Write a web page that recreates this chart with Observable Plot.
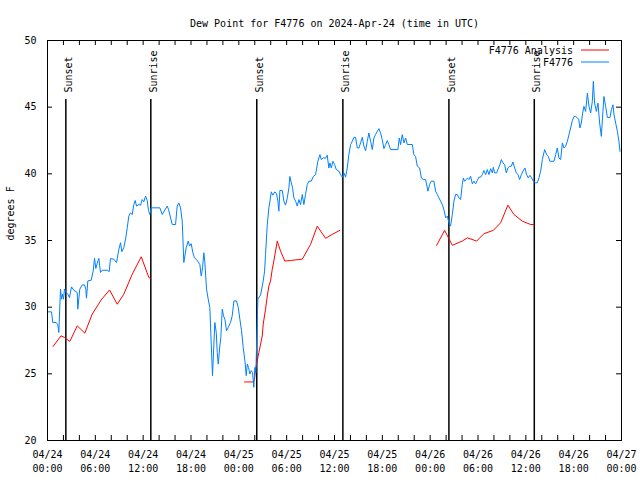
<!DOCTYPE html>
<html><head><meta charset="utf-8">
<script src="https://cdn.jsdelivr.net/npm/d3@7"></script>
<script src="https://cdn.jsdelivr.net/npm/@observablehq/plot@0.6"></script>
<style>body{margin:0;background:#fff}#chart{width:640px;height:480px}</style>
</head><body><div id="chart"></div>
<script>
const title = "Dew Point for F4776 on 2024-Apr-24 (time in UTC)";
const yLabel = "degrees F";
const seriesNames = ["F4776 Analysis", "F4776"];
const seriesColors = ["#ff0000", "#0080ff"];
const startTime = "2024-04-24T00:00:00Z";
const spanHours = 72;
const yTicks = [20, 25, 30, 35, 40, 45, 50];
const sunEvents = ["Sunset", "Sunrise", "Sunset", "Sunrise", "Sunset", "Sunrise"];
const sunHours = [2.3, 12.96, 26.25, 37.05, 50.35, 61.06];

// F4776 observations: hours since 04/24 00:00 UTC, dew point (F)
const obsHours = [
0,0.5,0.66,1.09,1.29,1.42,1.63,1.76,1.88,2.01,
2.13,2.35,2.55,2.76,3.01,3.3,3.73,3.8,4.05,4.35,
4.64,4.81,4.89,5.06,5.48,5.73,5.9,6.06,6.24,6.44,
6.65,6.86,7.49,7.74,7.9,8.32,8.66,8.95,9.16,9.32,
9.57,9.82,10.0,10.2,10.41,10.63,10.83,11.0,11.17,11.46,
11.67,11.88,12.08,12.3,12.51,12.67,12.84,13.01,14.09,14.39,
15.02,15.18,15.65,16.06,16.27,16.47,16.69,16.9,17.1,17.23,
17.4,17.65,17.82,18.03,18.23,18.44,18.78,19.11,19.28,19.45,
19.61,19.74,19.95,20.16,20.36,20.54,20.7,20.87,20.99,21.17,
21.29,21.42,21.58,21.74,21.92,22.08,22.25,22.46,22.67,22.96,
23.17,23.38,23.71,23.93,24.13,24.34,24.55,24.76,24.93,25.06,
25.22,25.38,25.56,25.72,25.88,26.01,26.14,26.26,26.39,26.73,
27.06,27.23,27.35,27.57,27.77,27.9,28.07,28.27,28.52,28.73,
28.9,29.02,29.15,29.45,29.65,29.86,30.08,30.28,30.4,30.58,
30.74,30.9,31.12,31.33,31.53,31.74,31.96,32.16,32.37,32.58,
32.79,33.09,33.34,33.63,33.91,34.17,34.34,34.59,34.88,35.09,
35.29,35.42,35.6,35.8,36.01,36.22,36.55,36.76,36.98,37.18,
37.39,37.6,37.8,38.02,38.23,38.43,38.64,38.86,39.06,39.27,
39.49,39.69,39.9,40.11,40.31,40.53,40.74,40.94,41.15,41.37,
41.57,41.78,41.99,42.2,42.41,42.62,42.82,43.04,43.95,44.13,
44.29,44.5,44.71,44.92,45.13,45.76,45.96,46.17,46.39,46.68,
46.89,47.14,47.43,47.72,47.93,48.14,48.47,48.68,48.9,49.1,
49.31,49.52,49.72,49.94,50.15,50.35,50.56,50.78,50.98,51.19,
51.4,51.61,51.82,52.03,52.16,52.32,52.53,52.66,52.86,53.07,
53.29,53.49,53.7,53.91,54.12,54.33,54.54,54.74,54.96,55.17,
55.37,55.58,55.8,55.92,56.09,56.34,56.5,56.75,56.93,57.13,
57.34,57.55,57.75,57.97,58.18,58.38,58.6,58.81,59.01,59.22,
59.44,59.64,59.89,60.1,60.31,60.51,60.73,60.94,61.23,61.44,
61.64,61.86,62.07,62.36,62.61,62.82,63.02,63.53,63.74,63.95,
64.15,64.37,64.58,64.78,64.99,65.21,65.41,65.62,65.83,66.04,
66.25,66.46,66.63,66.79,66.96,67.13,67.29,67.5,67.72,67.92,
68.13,68.34,68.47,68.63,68.85,69.05,69.26,69.47,69.67,69.8,
70.01,70.23,70.56,70.73,70.93,71.06,71.27,71.48,71.68,71.81
];
const obsDew = [
29.65,29.65,28.85,28.85,28.68,28.1,31.35,30.6,30.97,30.6,
31.35,31.1,30.97,30.72,31.52,31.27,31.1,29.85,31.35,31.67,
31.67,31.35,30.67,31.97,32.02,32.7,33.66,32.9,33.3,33.66,
32.6,32.77,32.77,32.67,33.64,33.6,33.35,34.34,34.83,34.16,
34.46,35.2,35.95,36.83,37.07,36.95,37.7,38.0,37.58,37.7,
37.65,38.07,37.9,38.33,38.0,37.25,36.95,37.45,37.45,36.95,
37.58,37.33,36.2,36.2,37.58,37.82,37.45,36.45,33.35,33.84,
34.46,34.96,34.58,34.76,34.08,33.71,33.5,33.2,32.34,32.96,
34.08,33.35,31.35,30.6,29.97,27.23,24.86,27.23,28.85,28.1,
26.6,25.73,26.86,27.73,29.85,29.35,29.1,28.23,28.47,28.85,
29.35,30.47,30.47,29.97,29.1,28.23,26.98,25.98,24.86,25.73,
25.48,24.99,25.24,25.1,23.99,25.48,25.1,27.98,30.6,30.92,
31.97,32.7,33.96,36.2,37.45,37.95,38.65,38.4,38.65,38.5,
37.95,37.2,38.75,38.75,37.95,37.65,38.2,38.95,39.8,39.33,
38.95,38.2,37.95,37.58,38.07,37.7,38.45,37.7,38.45,39.2,
39.45,39.45,39.8,39.94,40.94,41.44,41.07,41.2,41.17,41.39,
40.44,40.82,40.44,40.94,40.7,40.32,40.2,39.94,39.75,40.07,
39.75,40.44,41.44,42.19,42.44,42.74,42.74,41.94,41.94,42.32,
42.74,42.07,41.74,42.44,43.06,42.44,41.82,42.69,42.94,43.19,
43.39,43.06,42.56,41.89,42.19,42.49,42.19,41.82,41.82,42.69,
42.19,42.94,42.32,42.69,42.2,42.2,41.44,41.3,40.57,40.44,
39.69,39.57,39.57,38.7,39.2,39.45,39.45,38.7,38.45,38.2,
37.95,37.7,37.33,36.7,36.83,36.33,36.08,36.95,37.95,38.45,
38.45,38.2,38.07,39.2,39.69,39.45,39.57,39.69,39.57,39.82,
39.25,39.45,39.25,39.5,39.75,39.75,39.94,40.25,39.94,40.32,
39.94,40.39,40.07,40.49,40.07,40.07,40.32,40.69,41.07,40.82,
40.69,40.07,40.44,40.57,40.57,40.89,40.44,40.07,39.94,39.57,
39.94,40.2,40.44,39.94,39.69,39.89,39.69,39.45,39.33,39.33,
39.69,40.2,41.07,41.82,41.44,41.3,40.94,40.94,41.44,41.94,
41.19,41.07,42.32,41.94,42.07,42.44,42.94,43.44,43.99,44.3,
44.3,44.19,44.1,43.44,43.81,44.56,45.06,44.68,46.05,45.06,
44.56,45.43,46.93,45.3,44.68,45.3,43.81,42.81,44.68,45.8,
45.06,44.23,44.23,44.8,45.18,44.43,43.81,43.19,42.44,41.69
];

// F4776 Analysis: hours since 04/24 00:00 UTC, dew point (F); NaN marks a gap
const anaHours = [
0.7,1.69,2.13,2.8,3.73,4.68,5.61,6.74,7.78,8.75,9.57,10.63,11.76,12.71,12.92,13.5,
24.72,25.81,25.97,26.1,26.31,26.51,26.73,26.94,27.06,27.35,27.57,27.77,27.98,28.19,28.39,28.82,29.23,29.77,30.49,31.96,33.0,33.84,34.88,35.72,36.67,40,
48.81,49.81,50.78,52.03,52.66,53.83,54.74,55.92,56.84,57.75,58.51,59.56,60.6,61.02
];
const anaDew = [
27.05,27.85,27.73,27.43,28.6,28.05,29.48,30.55,31.29,30.22,30.97,32.47,33.78,32.22,32.17,NaN,
24.39,24.39,24.6,25.36,25.98,26.6,27.23,27.85,28.73,29.85,30.84,31.59,31.97,32.84,33.46,34.96,34.21,33.46,33.5,33.6,34.71,36.08,35.16,35.46,35.76,NaN,
34.64,35.76,34.64,34.96,35.2,34.96,35.51,35.76,36.33,37.65,36.95,36.45,36.2,36.2
];

const base = Date.parse(startTime);
const toDate = h => new Date(base + h * 3600e3);
const obs = obsHours.map((h, i) => ({t: toDate(h), v: obsDew[i]}));
const ana = anaHours.map((h, i) => ({t: toDate(h), v: anaDew[i]}));
const sun = sunHours.map((h, i) => ({t: toDate(h), label: sunEvents[i]}));
const xMinorTicks = d3.utcHour.every(2).range(toDate(0), toDate(spanHours + 0.01));
const xLabelTicks = d3.utcHour.every(6).range(toDate(0), toDate(spanHours + 0.01));
const fmt = d3.utcFormat("%m/%d\n%H:%M");

const plot = Plot.plot({
  width: 640, height: 480,
  marginLeft: 47, marginRight: 19, marginTop: 40, marginBottom: 40,
  style: {fontFamily: "'DejaVu Sans Mono', monospace", fontSize: "10px", color: "black", background: "white"},
  x: {type: "utc", domain: [toDate(0), toDate(spanHours)], label: null},
  y: {domain: [20, 50], label: null},
  marks: [
    Plot.ruleX(sun, {x: "t", insetTop: 59, stroke: "black", strokeWidth: 1.5}),
    Plot.text(sun, {x: "t", text: "label", frameAnchor: "top", rotate: -90, textAnchor: "start", dy: 52, dx: -1}),
    Plot.line(ana, {x: "t", y: "v", stroke: seriesColors[0], strokeWidth: 1}),
    Plot.line(obs, {x: "t", y: "v", stroke: seriesColors[1], strokeWidth: 1}),
    Plot.ruleX(xMinorTicks, {insetTop: 395, stroke: "black"}),
    Plot.ruleX(xMinorTicks, {insetBottom: 395, stroke: "black"}),
    Plot.ruleY(yTicks, {insetRight: 569, stroke: "black"}),
    Plot.ruleY(yTicks, {insetLeft: 569, stroke: "black"}),
    Plot.axisX(xLabelTicks, {tickSize: 0, tickPadding: 8, tickFormat: fmt, lineHeight: 1.4, label: null}),
    Plot.axisY(yTicks, {tickSize: 0, tickPadding: 11, label: null}),
    Plot.text([yLabel], {frameAnchor: "left", dx: -37, rotate: -90}),
    Plot.text([title], {frameAnchor: "top", dy: -21}),
    Plot.frame({stroke: "black"})
  ]
});
document.getElementById("chart").appendChild(plot);

const lg = d3.select(plot).append("g")
  .attr("font-family", "'DejaVu Sans Mono', monospace").attr("font-size", 10);
seriesNames.forEach((name, i) => {
  const y = 50 + i * 12;
  lg.append("text").attr("x", 573).attr("y", y).attr("dy", "0.35em")
    .attr("text-anchor", "end").attr("fill", "black").text(name);
  lg.append("line").attr("x1", 581).attr("x2", 609).attr("y1", y).attr("y2", y)
    .attr("stroke", seriesColors[i]).attr("stroke-width", 1);
});
</script>
</body></html>
